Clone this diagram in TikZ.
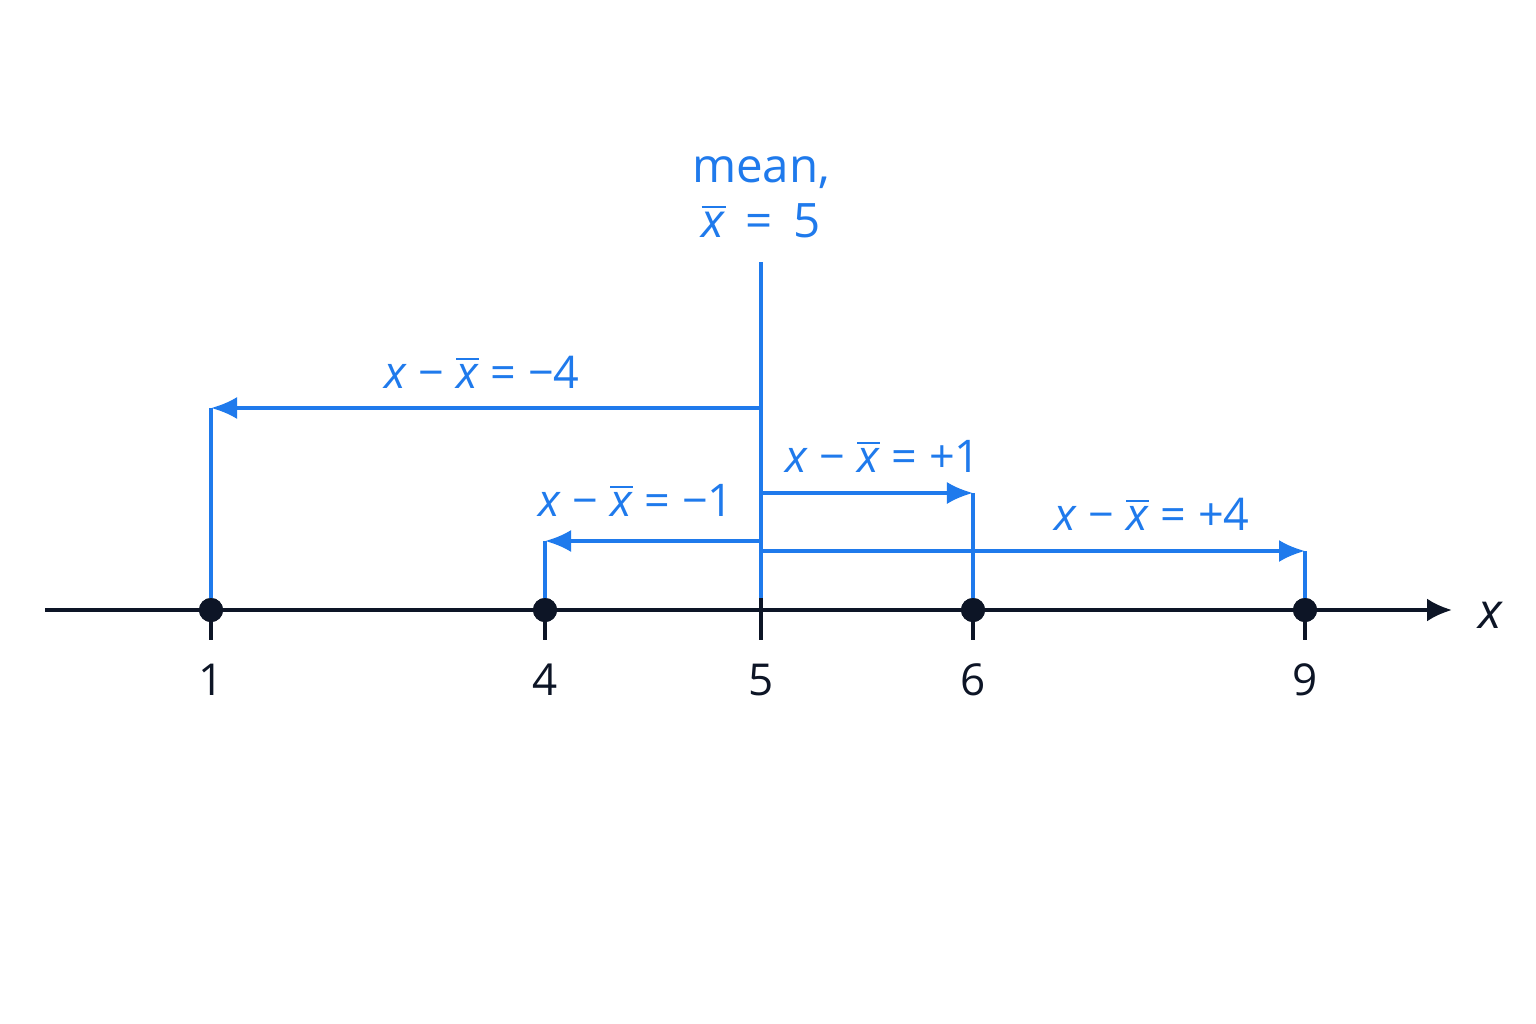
\documentclass[tikz,border=0pt]{standalone}
\usepackage{fontspec}
\setmainfont{Open Sans}
\usetikzlibrary{arrows.meta,positioning}

\definecolor{devblue}{HTML}{1F7AEC}
\definecolor{axisink}{HTML}{0D1526}
\newcommand{\xbar}{$\overline{\mbox{\textit{x}}}$}
\newcommand{\devlabel}[1]{\textit{x}\ −\ \xbar\ =\ #1}

\begin{document}
\begin{tikzpicture}[x=0.01cm, y=-0.01cm,
	dot/.style={circle, fill=axisink, inner sep=0pt, minimum size=0.24cm},
	devline/.style={devblue, line width=0.95pt},
	devarrow/.style={devline, -{Latex[length=0.26cm, width=0.22cm]}},
	tick/.style={axisink, line width=0.95pt},
	devtext/.style={devblue, anchor=base, font=\fontsize{12.8}{15}\selectfont},
	numtext/.style={axisink, anchor=base, font=\fontsize{12.5}{15}\selectfont}]
	\useasboundingbox[fill=white] (0,0) rectangle (1536,1024);

	% mean line and its label
	\coordinate (mtop) at (761,262);
	\coordinate (mfoot) at (761,610);
	\node[devblue, align=center, font=\fontsize{13.5}{15.6}\selectfont] (mean) at (761,197) {mean,\\\xbar{}\ \,=\ \,5};
	\draw[devline] (mtop) -- (mfoot);

	% data points on the axis
	\node[dot] (d1) at (211,610) {};
	\node[dot] (d4) at (545,610) {};
	\node[dot] (d6) at (973,610) {};
	\node[dot] (d9) at (1305,610) {};

	% deviations from the mean
	\coordinate (m1) at (761,408);  \coordinate (c1) at (211,408);
	\coordinate (m6) at (761,493);  \coordinate (c6) at (973,493);
	\coordinate (m4) at (761,541);  \coordinate (c4) at (545,541);
	\coordinate (m9) at (761,551);  \coordinate (c9) at (1305,551);
	\draw[devarrow] (m1) -- (c1);
	\draw[devarrow] (m6) -- (c6);
	\draw[devarrow] (m4) -- (c4);
	\draw[devarrow] (m9) -- (c9);
	\draw[devline] (c1) -- (d1.center);
	\draw[devline] (c6) -- (d6.center);
	\draw[devline] (c4) -- (d4.center);
	\draw[devline] (c9) -- (d9.center);
	\node[devtext] (l1) at (482,388) {\devlabel{−4}};
	\node[devtext] (l6) at (883,472) {\devlabel{+1}};
	\node[devtext] (l4) at (636,516) {\devlabel{−1}};
	\node[devtext] (l9) at (1152,530) {\devlabel{+4}};

	% axis
	\coordinate (astart) at (45,610);
	\coordinate (aend) at (1452,610);
	\draw[axisink, line width=1.05pt, -{Latex[length=0.25cm, width=0.23cm]}] (astart) -- (aend);
	\node[axisink, anchor=base, font=\fontsize{14}{16}\selectfont\itshape] (xlab) at (1490,628) {x};
	\draw[tick] (761,598) -- (761,640);
	\foreach \p/\v in {d1/1, d4/4, d6/6, d9/9} {
		\draw[tick] (\p.center) -- ++(0,30);
		\node[numtext] at ([yshift=-0.85cm]\p.center) {\v};
		\node[dot] at (\p.center) {};
	}
	\node[numtext] (n5) at (761,695) {5};
\end{tikzpicture}
\end{document}
